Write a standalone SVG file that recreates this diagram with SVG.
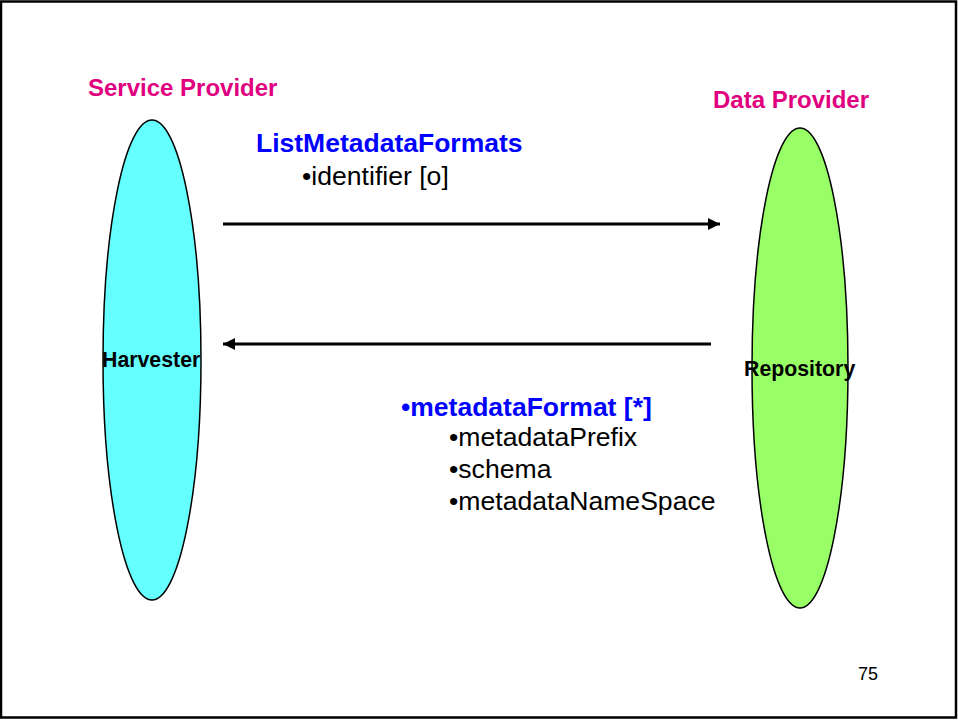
<svg xmlns="http://www.w3.org/2000/svg" width="958" height="720" viewBox="0 0 958 720">
<defs>
<style>
.t{font-family:"Liberation Sans",Arial,sans-serif}
.role{font-size:24px;font-weight:bold;fill:#e0007f}
.cmd{font-size:26.5px;font-weight:bold;fill:#0000ff}
.item{font-size:26.6px;fill:#000}
.lbl{font-size:21.3px;font-weight:bold;fill:#000}
.conn{stroke:#000;stroke-width:3;fill:none}
</style>
<marker id="ah" viewBox="0 0 10 10" refX="10" refY="5" markerWidth="4.3" markerHeight="4" orient="auto" markerUnits="strokeWidth">
<path d="M0,0 L10,5 L0,10 z" fill="#000"/>
</marker>
</defs>
<rect x="0" y="0" width="958" height="720" fill="#fff"/>
<rect x="1" y="1.5" width="955" height="716" fill="none" stroke="#000" stroke-width="2.5"/>
<g id="service-provider">
<text class="t role" x="88" y="96">Service Provider</text>
<ellipse cx="152" cy="360" rx="49" ry="240" fill="#66ffff" stroke="#000" stroke-width="1.5"/>
<text class="t lbl" x="102" y="367">Harvester</text>
</g>
<g id="data-provider">
<text class="t role" x="713" y="108">Data Provider</text>
<ellipse cx="800" cy="368" rx="48" ry="240" fill="#99ff66" stroke="#000" stroke-width="1.5"/>
<text class="t lbl" x="744" y="376">Repository</text>
</g>
<g id="connectors">
<line class="conn" x1="223" y1="224" x2="720" y2="224" marker-end="url(#ah)"/>
<line class="conn" x1="711" y1="344" x2="223" y2="344" marker-end="url(#ah)"/>
</g>
<g id="request">
<text class="t cmd" x="256" y="152">ListMetadataFormats</text>
<text class="t item" x="302" y="185">•identifier [o]</text>
</g>
<g id="response">
<text class="t cmd" x="401" y="416">•metadataFormat [*]</text>
<text class="t item" x="449" y="446">•metadataPrefix</text>
<text class="t item" x="449" y="478">•schema</text>
<text class="t item" x="449" y="510">•metadataNameSpace</text>
</g>
<text class="t" x="858" y="680" font-size="18" fill="#000">75</text>
</svg>
